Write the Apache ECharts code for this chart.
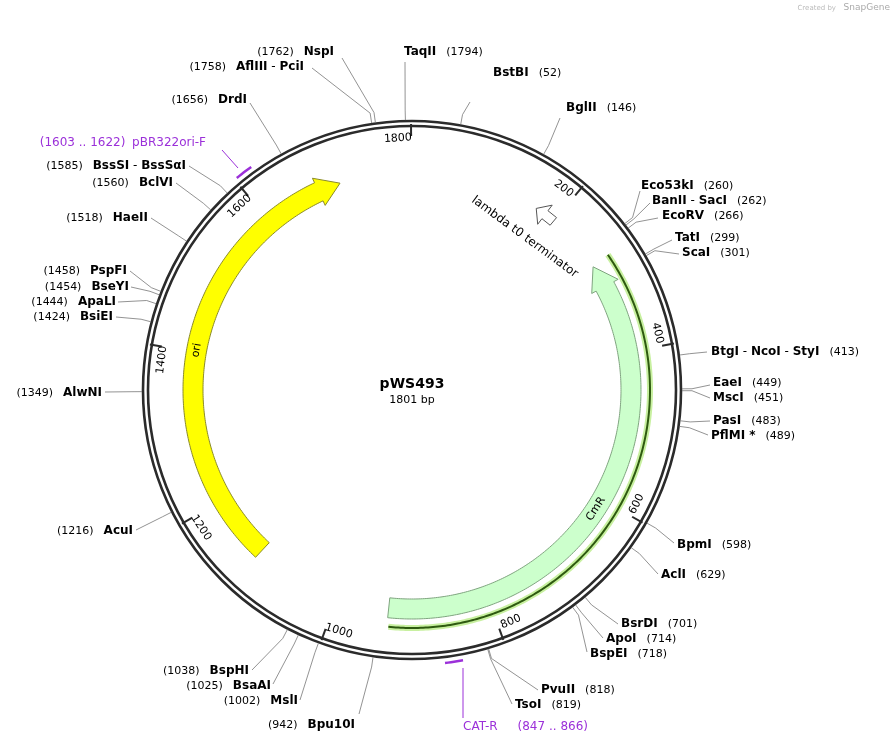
<!DOCTYPE html>
<html><head><meta charset="utf-8">
<script src="https://cdn.jsdelivr.net/npm/echarts@6/dist/echarts.min.js"></script>
<style>html,body{margin:0;padding:0;background:#fff}#c{width:895px;height:746px}</style>
</head><body><div id="c"></div>
<script>
const plasmidName = 'pWS493';
const plasmidLen = 1801;
const tickVals = [200,400,600,800,1000,1200,1400,1600,1800];

const enzNames = ['TaqII','BstBI','BglII','Eco53kI','BanII - SacI','EcoRV','TatI','ScaI','BtgI - NcoI - StyI','EaeI','MscI','PasI','PflMI *','BpmI','AclI','BsrDI','ApoI','BspEI','PvuII','TsoI',
 'Bpu10I','MslI','BsaAI','BspHI','AcuI','AlwNI','BsiEI','ApaLI','BseYI','PspFI','HaeII','BclVI','BssSI - BssSαI','DrdI','AflIII - PciI','NspI'];
const enzPos = [1794,52,146,260,262,266,299,301,413,449,451,483,489,598,629,701,714,718,818,819,
 942,1002,1025,1038,1216,1349,1424,1444,1454,1458,1518,1560,1585,1656,1758,1762];
// label layout: [textX, textY, side, lineEndX, lineEndY]
const enzLayout = [
 [404,52,'L',405,62],[493,73,'L',470,102],[566,108,'L',560,118],[641,186,'L',640,191],[652,201,'L',650,203],
 [662,216,'L',658,218],[675,238,'L',672,240],[682,253,'L',679,254],[711,352,'L',707,352],[713,383,'L',710,385],
 [713,398,'L',710,398],[713,421,'L',710,421],[711,436,'L',708,435],[677,545,'L',674,543],[661,575,'L',658,574],
 [621,624,'L',618,624],[606,639,'L',603,638],[590,654,'L',587,652],[541,690,'L',538,690],[515,705,'L',512,704],
 [355,725,'R',359,714],[298,701,'R',300,700],[271,686,'R',273,684],[249,671,'R',252,670],[133,531,'R',136,530],
 [102,393,'R',105,392],[113,317,'R',116,317],[116,302,'R',118,302],[129,287,'R',131,287],[127,271,'R',130,271],
 [148,218,'R',151,218],[173,183,'R',176,183],[186,166,'R',189,166],[247,100,'R',250,103],[304,67,'R',312,68],[334,52,'R',342,58]
];

const featNames = ['ori','CmR'];
const featTail = [1116,931];
const featTip = [1705,279];
const featFill = ['#ffff00','#ccffcc'];
const featStroke = ['#8a8a2a','#7fa47f'];
const featLabelPos = [1403,615];

const primerNames = ['pBR322ori-F','CAT-R'];
const primerStart = [1603,847];
const primerEnd = [1622,866];
const primerLayout = [[206,143,'R',238,168,222,150],[463,727,'L',463,668,463,718]];

const termName = 'lambda t0 terminator';
const termPos = [200,172];

const chart = echarts.init(document.getElementById('c'));
const F = '"DejaVu Sans", Verdana, sans-serif';

function deg(bp){return bp/plasmidLen*2*Math.PI;}
function tangentRot(bp){let t=deg(bp);let r=-t;if(t>Math.PI/2&&t<3*Math.PI/2)r+=Math.PI;return r;}
function arcPts(api,r,a,b,n){const pts=[];n=n||Math.max(4,Math.ceil(Math.abs(b-a)/3));for(let i=0;i<=n;i++){pts.push(api.coord([r,a+(b-a)*i/n]));}return pts;}

function backbone(params,api){
  const c=api.coord([0,0]);
  const ch=[
    {type:'circle',shape:{cx:c[0],cy:c[1],r:269},style:{fill:'none',stroke:'#2b2b2b',lineWidth:2.6}},
    {type:'circle',shape:{cx:c[0],cy:c[1],r:264},style:{fill:'none',stroke:'#2b2b2b',lineWidth:2.6}},
    {type:'text',x:c[0],y:c[1]-6,style:{text:plasmidName,font:'bold 14px '+F,fill:'#000',align:'center',verticalAlign:'middle'}},
    {type:'text',x:c[0],y:c[1]+10,style:{text:plasmidLen+' bp',font:'11px '+F,fill:'#000',align:'center',verticalAlign:'middle'}},
    {type:'text',x:836,y:8,style:{text:'Created by',font:'7px '+F,fill:'#bbb',align:'right',verticalAlign:'middle'}},
    {type:'text',x:890,y:8,style:{text:'SnapGene',font:'9px '+F,fill:'#aaa',align:'right',verticalAlign:'middle'}}
  ];
  return {type:'group',children:ch};
}

function ticks(params,api){
  const v=tickVals[params.dataIndex];
  const a=api.coord([266,v]),b=api.coord([254,v]);
  const t=api.coord([252,v-15]);
  return {type:'group',children:[
    {type:'line',shape:{x1:a[0],y1:a[1],x2:b[0],y2:b[1]},style:{stroke:'#2b2b2b',lineWidth:2}},
    {type:'text',x:t[0],y:t[1],rotation:tangentRot(v-15),style:{text:String(v),font:'11px '+F,fill:'#000',align:'center',verticalAlign:'middle'}}
  ]};
}

function feature(params,api){
  const i=params.dataIndex;
  const tail=featTail[i],tip=featTip[i];
  const dir=tip>tail?1:-1;
  const hs=tip-dir*30;
  const r1=209,r2=229,h1=204,h2=234;
  let pts=[];
  pts=pts.concat(arcPts(api,r2,tail,hs));
  pts.push(api.coord([h2,hs]));
  pts.push(api.coord([(r1+r2)/2,tip]));
  pts.push(api.coord([h1,hs]));
  pts=pts.concat(arcPts(api,r1,hs,tail));
  const ch=[{type:'polygon',shape:{points:pts},style:{fill:featFill[i],stroke:featStroke[i],lineWidth:1}}];
  const lp=api.coord([219,featLabelPos[i]]);
  ch.push({type:'text',x:lp[0],y:lp[1],rotation:tangentRot(featLabelPos[i]),style:{text:featNames[i],font:'11px '+F,fill:'#000',align:'center',verticalAlign:'middle'}});
  if(i===1){
    const gl=arcPts(api,238,tip-2,tail-2);
    ch.unshift({type:'polyline',shape:{points:gl},style:{stroke:'#c8f0a0',lineWidth:6,fill:'none'}});
    ch.splice(1,0,{type:'polyline',shape:{points:gl},style:{stroke:'#2e5a10',lineWidth:2,fill:'none'}});
  }
  return {type:'group',children:ch};
}

function terminator(params,api){
  const a=termPos[0],b=termPos[1];
  const m=a-(a-b)*0.5;
  const pts=[api.coord([215,a]),api.coord([215,m]),api.coord([208,m]),api.coord([220,b]),api.coord([232,m]),api.coord([225,m]),api.coord([225,a])];
  const tp=api.coord([190,182]);
  return {type:'group',children:[
    {type:'polygon',shape:{points:pts},style:{fill:'#fff',stroke:'#555',lineWidth:1}},
    {type:'text',x:tp[0],y:tp[1],rotation:tangentRot(182),style:{text:termName,font:'12px '+F,fill:'#000',align:'center',verticalAlign:'middle'}}
  ]};
}

function richName(n){return n.split(' - ').map(s=>'{b|'+s+'}').join('{d| - }');}
const rich={b:{font:'bold 12px '+F,fill:'#000'},d:{font:'12px '+F,fill:'#000'},n:{font:'11px '+F,fill:'#000'}};

function enzyme(params,api){
  const i=params.dataIndex;const L=enzLayout[i];
  const p=api.coord([270,enzPos[i]]);const q=api.coord([280,enzPos[i]]);
  const txt=L[2]==='L'?richName(enzNames[i])+'   {n|('+enzPos[i]+')}':'{n|('+enzPos[i]+')}   '+richName(enzNames[i]);
  return {type:'group',children:[
    {type:'polyline',shape:{points:[p,q,[L[3],L[4]]]},style:{stroke:'#777',lineWidth:0.8,fill:'none'}},
    {type:'text',x:L[0],y:L[1],style:{text:txt,rich:rich,align:L[2]==='L'?'left':'right',verticalAlign:'middle'}}
  ]};
}

function primer(params,api){
  const i=params.dataIndex;const L=primerLayout[i];
  const pts=arcPts(api,275,primerStart[i],primerEnd[i],6);
  const col='#9b30d9';
  const txt=L[2]==='L'?'{p|'+primerNames[i]+'}      {p|('+primerStart[i]+' .. '+primerEnd[i]+')}':'{p|('+primerStart[i]+' .. '+primerEnd[i]+')}  {p|'+primerNames[i]+'}';
  return {type:'group',children:[
    {type:'polyline',shape:{points:pts},style:{stroke:col,lineWidth:2.5,fill:'none'}},
    {type:'line',shape:{x1:L[3],y1:L[4],x2:L[5],y2:L[6]},style:{stroke:col,lineWidth:1}},
    {type:'text',x:L[0],y:L[1],style:{text:txt,rich:{p:{font:'12px '+F,fill:col}},align:L[2]==='L'?'left':'right',verticalAlign:'middle'}}
  ]};
}

function ser(fn,data){return {type:'custom',coordinateSystem:'polar',renderItem:fn,data:data,clip:false,silent:true,animation:false};}

chart.setOption({
  animation:false,
  polar:{center:[412,390],radius:[0,300]},
  angleAxis:{type:'value',min:0,max:plasmidLen,startAngle:90,clockwise:true,show:false},
  radiusAxis:{type:'value',min:0,max:300,show:false},
  series:[
    ser(feature,featNames.map((n,i)=>[219,featTail[i]])),
    ser(terminator,[[216,185]]),
    ser(backbone,[[0,0]]),
    ser(ticks,tickVals.map(v=>[260,v])),
    ser(enzyme,enzPos.map(v=>[270,v])),
    ser(primer,primerStart.map(v=>[275,v]))
  ]
});
</script></body></html>
